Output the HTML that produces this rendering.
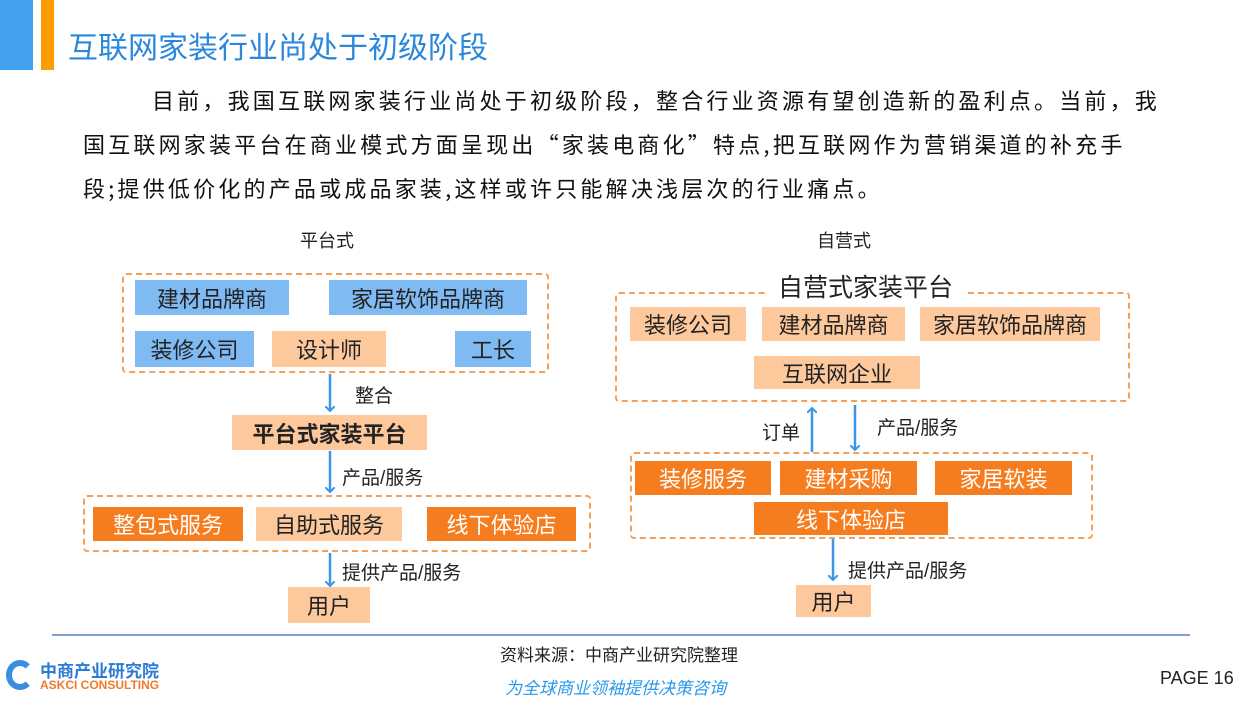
<!DOCTYPE html>
<html><head><meta charset="utf-8"><style>
*{margin:0;padding:0;box-sizing:border-box}
body{width:1250px;height:710px;background:#fff;position:relative;overflow:hidden;font-family:"Liberation Sans","Noto Sans CJK SC",sans-serif;color:#222}
.a{position:absolute}
.bx{position:absolute;display:flex;align-items:center;justify-content:center;font-size:22px;color:#222;white-space:nowrap}
.bl{background:#7fbaf2}
.pc{background:#fcc89c}
.or{background:#f57d1f;color:#fff}
.d{position:absolute;border:2.5px dashed #f5a05a;border-radius:4px}
.t{position:absolute;font-size:19px;white-space:nowrap}
.ln{position:absolute;font-size:22px;letter-spacing:3.2px;white-space:nowrap;color:#111;font-family:"Noto Sans CJK SC",sans-serif}
</style></head><body>
<div class="a" style="left:0;top:0;width:33px;height:70px;background:#42a0f0"></div>
<div class="a" style="left:41px;top:0;width:13px;height:70px;background:#ff9a00"></div>
<div class="a" style="left:68px;top:23px;font-size:30px;color:#2a88dc;white-space:nowrap">互联网家装行业尚处于初级阶段</div>
<div class="ln" style="left:152px;top:84px">目前，我国互联网家装行业尚处于初级阶段，整合行业资源有望创造新的盈利点。当前，我</div>
<div class="ln" style="left:83px;top:128px">国互联网家装平台在商业模式方面呈现出“家装电商化”特点,把互联网作为营销渠道的补充手</div>
<div class="ln" style="left:83px;top:172px">段;提供低价化的产品或成品家装,这样或许只能解决浅层次的行业痛点。</div>
<div class="t" style="left:300px;top:227px;font-size:18px">平台式</div>
<div class="t" style="left:817px;top:227px;font-size:18px">自营式</div>

<svg class="a" style="left:0;top:0" width="1250" height="710">
<defs><marker id="ar" markerWidth="10" markerHeight="10" refX="5" refY="5" orient="auto" markerUnits="userSpaceOnUse"><path d="M0,0 L5,5 L0,10" fill="none" stroke="#3a96e8" stroke-width="2"/></marker></defs>
<g stroke="#3a96e8" stroke-width="2.5" fill="none">
<line x1="330" y1="374" x2="330" y2="411" marker-end="url(#ar)"/>
<line x1="330" y1="451" x2="330" y2="492" marker-end="url(#ar)"/>
<line x1="330" y1="553" x2="330" y2="586" marker-end="url(#ar)"/>
<line x1="812" y1="452" x2="812" y2="408" marker-end="url(#ar)"/>
<line x1="855" y1="405" x2="855" y2="450" marker-end="url(#ar)"/>
<line x1="833" y1="539" x2="833" y2="580" marker-end="url(#ar)"/>
</g>
<line x1="52" y1="635" x2="1190" y2="635" stroke="#5a82b8" stroke-width="1.5"/>
</svg>

<div class="d" style="left:122px;top:273px;width:427px;height:100px"></div>
<div class="bx bl" style="left:135px;top:280px;width:154px;height:35px">建材品牌商</div>
<div class="bx bl" style="left:329px;top:280px;width:198px;height:35px">家居软饰品牌商</div>
<div class="bx bl" style="left:135px;top:331px;width:119px;height:36px">装修公司</div>
<div class="bx pc" style="left:272px;top:331px;width:114px;height:36px">设计师</div>
<div class="bx bl" style="left:455px;top:331px;width:76px;height:36px">工长</div>
<div class="t" style="left:355px;top:381px">整合</div>
<div class="bx pc" style="left:232px;top:415px;width:195px;height:35px;font-weight:bold">平台式家装平台</div>
<div class="t" style="left:342px;top:463px">产品/服务</div>
<div class="d" style="left:83px;top:495px;width:508px;height:57px"></div>
<div class="bx or" style="left:93px;top:507px;width:150px;height:34px">整包式服务</div>
<div class="bx pc" style="left:256px;top:507px;width:146px;height:34px">自助式服务</div>
<div class="bx or" style="left:427px;top:507px;width:149px;height:34px">线下体验店</div>
<div class="t" style="left:342px;top:558px">提供产品/服务</div>
<div class="bx pc" style="left:288px;top:587px;width:82px;height:36px">用户</div>

<div class="d" style="left:615px;top:292px;width:515px;height:110px"></div>
<div class="a" style="left:766px;top:268px;padding:0 12px;background:#fff;font-size:25px;white-space:nowrap">自营式家装平台</div>
<div class="bx pc" style="left:630px;top:307px;width:116px;height:34px">装修公司</div>
<div class="bx pc" style="left:762px;top:307px;width:143px;height:34px">建材品牌商</div>
<div class="bx pc" style="left:920px;top:307px;width:180px;height:34px">家居软饰品牌商</div>
<div class="bx pc" style="left:754px;top:356px;width:166px;height:33px">互联网企业</div>
<div class="t" style="left:762px;top:418px">订单</div>
<div class="t" style="left:877px;top:413px">产品/服务</div>
<div class="d" style="left:630px;top:452px;width:463px;height:87px"></div>
<div class="bx or" style="left:635px;top:461px;width:136px;height:34px">装修服务</div>
<div class="bx or" style="left:780px;top:461px;width:137px;height:34px">建材采购</div>
<div class="bx or" style="left:935px;top:461px;width:137px;height:34px">家居软装</div>
<div class="bx or" style="left:754px;top:502px;width:194px;height:33px">线下体验店</div>
<div class="t" style="left:848px;top:556px">提供产品/服务</div>
<div class="bx pc" style="left:796px;top:585px;width:75px;height:32px">用户</div>

<div class="t" style="left:500px;top:641px;font-size:17px">资料来源：中商产业研究院整理</div>
<div class="t" style="left:505px;top:674px;font-size:17px;color:#2a9ae8;font-style:italic">为全球商业领袖提供决策咨询</div>
<div class="t" style="left:1160px;top:668px;font-size:18px">PAGE 16</div>
<div class="a" style="left:6px;top:660px;width:28px;height:30px;border:6px solid #3a8ee0;border-right-color:transparent;border-radius:50%"></div>
<div class="t" style="left:40px;top:657px;font-size:17px;color:#2a7ad8;font-weight:bold">中商产业研究院</div>
<div class="t" style="left:40px;top:678px;font-size:12px;color:#f07a2a;font-weight:bold">ASKCI CONSULTING</div>
</body></html>
